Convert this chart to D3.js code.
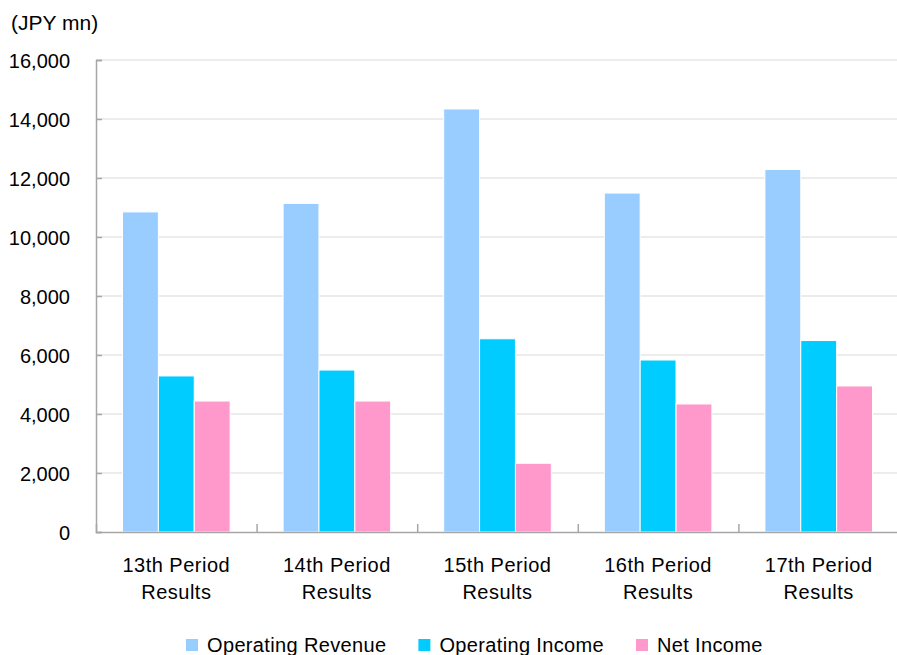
<!DOCTYPE html>
<html><head><meta charset="utf-8">
<script src="https://cdn.jsdelivr.net/npm/d3@7"></script>
<style>
html,body{margin:0;padding:0;background:#fff;}
svg{display:block;}
text{font-family:"Liberation Sans",Arial,sans-serif;fill:#000;}
</style></head>
<body>
<script>
const categories = [["13th Period","Results"],["14th Period","Results"],["15th Period","Results"],["16th Period","Results"],["17th Period","Results"]];
const seriesNames = ["Operating Revenue","Operating Income","Net Income"];
const operatingRevenue = [10850, 11140, 14340, 11490, 12290];
const operatingIncome = [5290, 5490, 6550, 5830, 6490];
const netIncome = [4440, 4440, 2330, 4340, 4950];
const yTicks = [0, 2000, 4000, 6000, 8000, 10000, 12000, 14000, 16000];
const colors = ["#99ccff", "#00ccff", "#ff99cc"];
const unitLabel = "(JPY mn)";

(function(){
const W = 897, H = 655;
const mLeft = 96, mRight = 899, mTop = 60, mBottom = 532;
const svg = d3.select("body").append("svg").attr("width", W).attr("height", H);

const catIdx = d3.range(categories.length);
const x = d3.scaleBand().domain(catIdx).range([mLeft, mRight]).padding(0);
const inner = d3.scaleBand().domain(d3.range(seriesNames.length)).range([26.5, x.bandwidth() - 26.5]).padding(0);
const y = d3.scaleLinear().domain([0, 16000]).range([mBottom, mTop]);
const series = [operatingRevenue, operatingIncome, netIncome];

// gridlines
svg.append("g").selectAll("line").data(yTicks.filter(d => d > 0)).join("line")
  .attr("x1", mLeft).attr("x2", W).attr("y1", d => y(d)).attr("y2", d => y(d))
  .attr("stroke", "#d9d9d9").attr("stroke-width", 1.2);

// y axis
const yAxis = d3.axisLeft(y).tickValues(yTicks).tickSize(-6).tickPadding(26)
  .tickFormat(d3.format(","));
const gy = svg.append("g").attr("transform", `translate(${mLeft},0)`).call(yAxis);
gy.select(".domain").attr("stroke", "#a6a6a6").attr("stroke-width", 1.5);
gy.selectAll(".tick line").attr("stroke", "#a6a6a6").attr("stroke-width", 1.5);
gy.selectAll(".tick text").attr("font-size", 20).attr("font-family", "Liberation Sans, Arial, sans-serif").attr("fill", "#000").attr("dy", "0.37em");

// bars
const groups = svg.append("g").selectAll("g").data(catIdx).join("g")
  .attr("transform", i => `translate(${x(i)},0)`);
groups.selectAll("rect").data(i => series.map((s, k) => ({k, v: s[i]}))).join("rect")
  .attr("x", d => inner(d.k)).attr("width", inner.bandwidth())
  .attr("y", d => y(d.v)).attr("height", d => y(0) - y(d.v))
  .attr("fill", d => colors[d.k]).attr("stroke", "#fff").attr("stroke-width", 1);

// x axis
const xAxis = d3.axisBottom(d3.scaleLinear().domain([0, categories.length]).range([mLeft, mRight]))
  .tickValues(d3.range(1, categories.length)).tickSize(-8).tickFormat("");
const gx = svg.append("g").attr("transform", `translate(0,${mBottom})`).call(xAxis);
gx.select(".domain").attr("stroke", "#a6a6a6").attr("stroke-width", 1.5);
gx.selectAll(".tick line").attr("stroke", "#a6a6a6").attr("stroke-width", 1.5);

// category labels
const cl = svg.append("g").selectAll("text").data(catIdx).join("text")
  .attr("text-anchor", "middle").attr("font-size", 20).style("letter-spacing", "0.5px");
cl.append("tspan").attr("x", i => x(i) + x.bandwidth() / 2).attr("y", 572).text(i => categories[i][0]);
cl.append("tspan").attr("x", i => x(i) + x.bandwidth() / 2).attr("y", 599).text(i => categories[i][1]);

// unit label
svg.append("text").attr("x", 11).attr("y", 30).attr("font-size", 21).text(unitLabel);

// legend
let lx = 186;
seriesNames.forEach((name, k) => {
  svg.append("rect").attr("x", lx).attr("y", 639).attr("width", 12).attr("height", 12).attr("fill", colors[k]);
  const t = svg.append("text").attr("x", lx + 21).attr("y", 652).attr("font-size", 20)
    .style("letter-spacing", "0.35px").text(name);
  lx = lx + 21 + t.node().getComputedTextLength() + 32;
});
})();
</script>
</body></html>
